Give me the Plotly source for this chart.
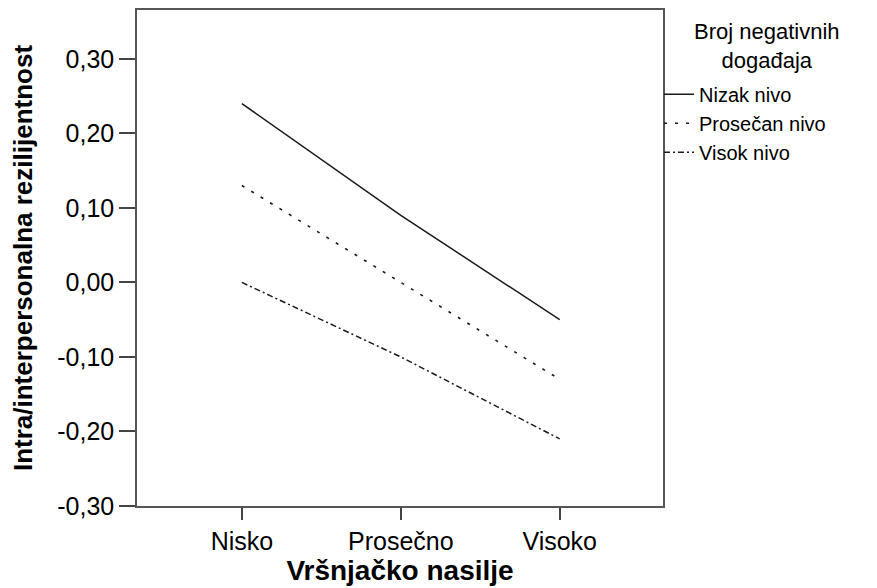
import plotly.graph_objects as go

categories = ["Nisko", "Prosečno", "Visoko"]
series_names = ["Nizak nivo", "Prosečan nivo", "Visok nivo"]
nizak = [0.24, 0.09, -0.05]
prosecan = [0.13, 0.00, -0.13]
visok = [0.00, -0.10, -0.21]
y_ticks = [0.30, 0.20, 0.10, 0.00, -0.10, -0.20, -0.30]
y_tick_labels = ["0,30", "0,20", "0,10", "0,00", "-0,10", "-0,20", "-0,30"]
legend_title = "Broj negativnih<br>događaja"

FONT = "Liberation Sans, Arial, sans-serif"
x_idx = list(range(len(categories)))

# page body has an 8px margin, so the figure is sized to fit the 877x588 window
W, H = 869, 580
ML, MR, MT, MB = 129, 214, 0, 82
plot_w = W - ML - MR
plot_h = H - MT - MB

fig = go.Figure()
styles = [dict(color="#1a1a1a", width=1.5, dash="solid"),
          dict(color="#1a1a1a", width=1.6, dash="3px,8px"),
          dict(color="#1a1a1a", width=1.5, dash="6px,3px,2px,3px")]
for name, vals, st in zip(series_names, [nizak, prosecan, visok], styles):
    fig.add_trace(go.Scatter(x=x_idx, y=vals, mode="lines", name=name,
                             line=st, hoverinfo="skip"))

fig.add_annotation(
    text=legend_title, xref="paper", yref="paper",
    x=1 + 104 / plot_w, y=1 - (44 - 8) / plot_h,
    xanchor="center", yanchor="middle", align="center", showarrow=False,
    font=dict(family=FONT, size=22, color="black"),
)

fig.update_layout(
    width=W, height=H,
    margin=dict(l=ML, r=MR, t=MT, b=MB),
    paper_bgcolor="white", plot_bgcolor="white",
    font=dict(family=FONT, size=22, color="black"),
    showlegend=True,
    legend=dict(
        x=1 - 4 / plot_w, xanchor="left", y=1 - 65 / plot_h, yanchor="top",
        bgcolor="rgba(0,0,0,0)",
        font=dict(family=FONT, size=20, color="black"),
        tracegroupgap=0, itemwidth=30,
    ),
    xaxis=dict(
        range=[-0.66, 2.65], tickvals=x_idx, ticktext=categories,
        showgrid=False, zeroline=False,
        showline=True, mirror=True, linecolor="#555", linewidth=1.5,
        ticks="outside", ticklen=12, tickcolor="#444", tickwidth=1.5,
        tickfont=dict(family=FONT, size=25, color="black"),
        title=dict(text="<b>Vršnjačko nasilje</b>", standoff=6,
                   font=dict(family=FONT, size=28, color="black")),
    ),
    yaxis=dict(
        range=[-0.30, 0.3655], tickvals=y_ticks, ticktext=y_tick_labels,
        showgrid=False, zeroline=False,
        showline=True, mirror=True, linecolor="#555", linewidth=1.5,
        ticks="outside", ticklen=16, tickcolor="#444", tickwidth=1.5,
        tickfont=dict(family=FONT, size=25, color="black"),
        title=dict(text="<b>Intra/interpersonalna rezilijentnost</b>", standoff=22,
                   font=dict(family=FONT, size=26, color="black")),
    ),
)

fig.write_html("out.html")
